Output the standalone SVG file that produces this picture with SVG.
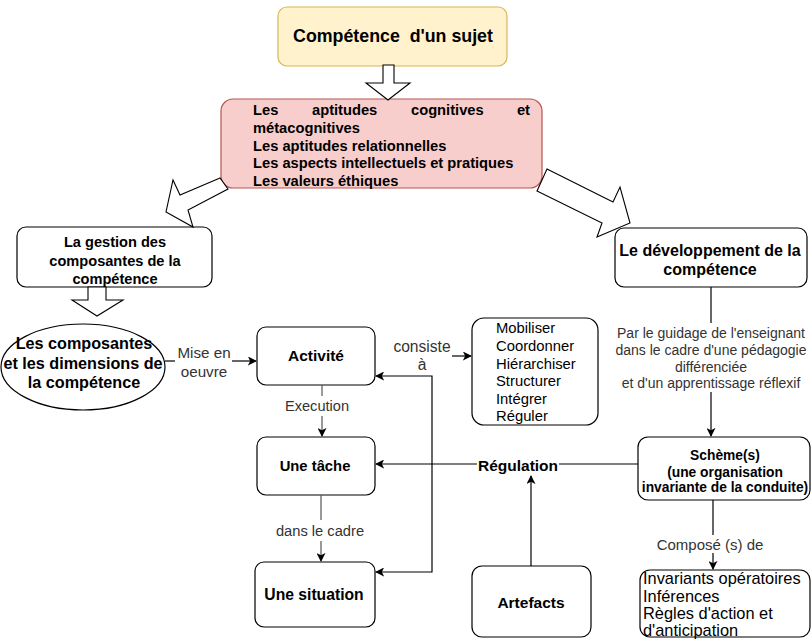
<svg xmlns="http://www.w3.org/2000/svg" width="811" height="639" viewBox="0 0 811 639">
<defs>
<style>
text{font-family:"Liberation Sans",Arial,sans-serif;fill:#000}
.b{font-weight:bold}
.box{fill:#fff;stroke:#000;stroke-width:1.2}
.lbl{fill:#333}
.edge{fill:none;stroke:#000;stroke-width:1.2}
.gedge{fill:none;stroke:#555;stroke-width:1.2}
.blk{fill:#fff;stroke:#000;stroke-width:1.1;stroke-linejoin:miter}
</style>
<marker id="ar" viewBox="0 0 10 10" refX="9" refY="5" markerWidth="9" markerHeight="9" markerUnits="userSpaceOnUse" orient="auto-start-reverse">
<path d="M0,0 L10,5 L0,10 L2.5,5 z" fill="#000"/>
</marker>
</defs>
<rect width="811" height="639" fill="#fff"/>

<g id="competence">
<rect x="278" y="7" width="229" height="59" rx="9" fill="#fff2cc" stroke="#d6b656" stroke-width="1.2"/>
<text x="393" y="42" class="b" font-size="17.8" text-anchor="middle">Compétence&#160; d'un sujet</text>
</g>

<g id="aptitudes">
<rect x="221" y="99" width="321" height="89" rx="12" fill="#f8cecc" stroke="#b85450" stroke-width="1.2"/>
<text class="b" font-size="14.7"><tspan x="253" y="115">Les</tspan><tspan x="312" y="115">aptitudes</tspan><tspan x="411" y="115">cognitives</tspan><tspan x="530" y="115" text-anchor="end">et</tspan></text>
<text class="b" font-size="14.7" x="253" y="133">métacognitives</text>
<text class="b" font-size="14.7" x="253" y="151">Les aptitudes relationnelles</text>
<text class="b" font-size="14.7" x="253" y="168">Les aspects intellectuels et pratiques</text>
<text class="b" font-size="14.7" x="253" y="186">Les valeurs éthiques</text>
</g>

<g id="gestion">
<rect x="17" y="227" width="195" height="60" rx="9" class="box"/>
<text class="b" font-size="14.6" text-anchor="middle"><tspan x="115" y="247">La gestion des</tspan><tspan x="115" y="266">composantes de la</tspan><tspan x="115" y="284">compétence</tspan></text>
</g>

<g id="composantes">
<ellipse cx="83" cy="367" rx="82" ry="43" class="box"/>
<text class="b" font-size="16.2" text-anchor="middle"><tspan x="84" y="349">Les composantes</tspan><tspan x="83" y="369">et les dimensions de</tspan><tspan x="84" y="388">la compétence</tspan></text>
</g>

<g id="activite">
<rect x="257" y="327" width="118" height="58" rx="9" class="box"/>
<text x="316" y="361" class="b" font-size="15.5" text-anchor="middle">Activité</text>
</g>

<g id="actions">
<rect x="472" y="318" width="126" height="107" rx="12" class="box"/>
<text font-size="14.8"><tspan x="496" y="333">Mobiliser</tspan><tspan x="496" y="351">Coordonner</tspan><tspan x="496" y="368.5">Hiérarchiser</tspan><tspan x="496" y="386">Structurer</tspan><tspan x="496" y="403.5">Intégrer</tspan><tspan x="496" y="421">Réguler</tspan></text>
</g>

<g id="tache">
<rect x="257" y="437" width="118" height="58" rx="9" class="box"/>
<text x="315" y="471" class="b" font-size="14.8" text-anchor="middle">Une tâche</text>
</g>

<g id="situation">
<rect x="255" y="562" width="120" height="65" rx="9" class="box"/>
<text x="314" y="600" class="b" font-size="15.7" text-anchor="middle">Une situation</text>
</g>

<g id="artefacts">
<rect x="472" y="566" width="119" height="71" rx="10" class="box"/>
<text x="531" y="608" class="b" font-size="15.5" text-anchor="middle">Artefacts</text>
</g>

<g id="developpement">
<rect x="615" y="228" width="192" height="59" rx="9" class="box"/>
<text class="b" font-size="16" text-anchor="middle"><tspan x="710" y="256">Le développement de la</tspan><tspan x="710" y="275">compétence</tspan></text>
</g>

<g id="scheme">
<rect x="638" y="437" width="172" height="63" rx="10" class="box"/>
<text class="b" font-size="13.8" text-anchor="middle"><tspan x="725" y="460">Schème(s)</tspan><tspan x="725" y="477">(une organisation</tspan><tspan x="725" y="492">invariante de la conduite)</tspan></text>
</g>

<g id="invariants">
<rect x="640" y="570" width="170" height="67" rx="10" class="box"/>
<text font-size="16.4"><tspan x="643" y="584">Invariants opératoires</tspan><tspan x="643" y="601.5">Inférences</tspan><tspan x="643" y="619">Règles d'action et</tspan><tspan x="643" y="636">d'anticipation</tspan></text>
</g>

<g id="connectors">
<polygon class="blk" points="383,65 394,65 394,83 410,83 388,100 366,83 383,83"/>
<polygon class="blk" points="220,178 180,195 173,180 166,212 193,227 188,210 228,189"/>
<polygon class="blk" points="547,169 613,202 620,187 630,223 597,237 602,223 537,191"/>
<polygon class="blk" points="88,287 106,287 106,300 123,300 97,316 72,300 88,300"/>

<line x1="165" y1="361" x2="175" y2="361" class="edge"/>
<line x1="232" y1="361" x2="256" y2="361" class="edge" marker-end="url(#ar)"/>
<text class="lbl" font-size="15.2" text-anchor="middle"><tspan x="204" y="358">Mise en</tspan><tspan x="204" y="377">oeuvre</tspan></text>

<line x1="452" y1="356" x2="471" y2="356" class="edge" marker-end="url(#ar)"/>
<text class="lbl" font-size="15.6" text-anchor="middle"><tspan x="422" y="352">consiste</tspan><tspan x="422" y="370">à</tspan></text>

<line x1="322" y1="385" x2="322" y2="396" class="gedge"/>
<line x1="322" y1="416" x2="322" y2="436" class="gedge" marker-end="url(#ar)"/>
<text x="317" y="411" class="lbl" font-size="14.6" text-anchor="middle">Execution</text>

<line x1="321" y1="495" x2="321" y2="520" class="gedge"/>
<line x1="321" y1="541" x2="321" y2="561" class="gedge" marker-end="url(#ar)"/>
<text x="320" y="536" class="lbl" font-size="14.7" text-anchor="middle">dans le cadre</text>

<path d="M376,376 H432 V572 H376" class="edge" marker-start="url(#ar)" marker-end="url(#ar)"/>

<line x1="638" y1="464" x2="559" y2="464" class="edge"/>
<line x1="477" y1="464" x2="376" y2="464" class="edge" marker-end="url(#ar)"/>
<text x="518" y="471" class="b" font-size="15.5" text-anchor="middle">Régulation</text>

<line x1="531" y1="566" x2="531" y2="476" class="edge" marker-end="url(#ar)"/>

<line x1="711" y1="287" x2="711" y2="323" class="edge"/>
<line x1="711" y1="392" x2="711" y2="436" class="edge" marker-end="url(#ar)"/>
<text class="lbl" font-size="14" text-anchor="middle"><tspan x="711" y="338">Par le guidage de l'enseignant</tspan><tspan x="711" y="355">dans le cadre d'une pédagogie</tspan><tspan x="711" y="372">différenciée</tspan><tspan x="711" y="388">et d'un apprentissage réflexif</tspan></text>

<line x1="713" y1="500" x2="713" y2="535" class="edge"/>
<line x1="713" y1="553" x2="713" y2="569" class="edge" marker-end="url(#ar)"/>
<text x="710" y="550" class="lbl" font-size="15" text-anchor="middle">Composé (s) de</text>
</g>
</svg>
